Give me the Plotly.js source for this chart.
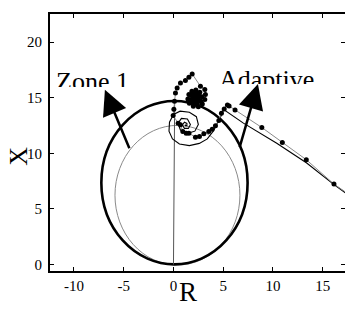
<!DOCTYPE html>
<html>
<head>
<meta charset="utf-8">
<script src="https://cdn.plot.ly/plotly-3.0.1.min.js"></script>
<style>
  html, body { margin: 0; padding: 0; background: #fff; }
  #chart { width: 345px; height: 321px; }
</style>
</head>
<body>
<div id="chart"></div>
<script>
// Relay characteristics (mho circles through the origin), in ohms
const zone1Center = [0.4, 6.24];
const zone1Radius = 6.28;
const adaptiveCenter = [0.1, 7.37];
const adaptiveRadius = 7.35;

// Apparent impedance seen by the relay (grey line, sampled points)
const sampledR = [18.6, 16.13, 13.35, 10.94, 8.88, 6.19, 5.59, 5.42, 5.1,
  4.82, 4.56, 4.22, 3.89, 3.55, 3.05, 2.61, 2.21, 1.55, 1.28, 0.94, 0.7, 0.47,
  -0.03, 0.04, 0.1, 0.2, 0.37, 0.7, 1.2, 1.55, 1.88,
  2.71, 3.15, 3.21, 3.15,
  2.9, 2.5, 2.0, 1.6, 1.45, 1.55, 1.85, 2.25, 2.65, 2.85, 2.75, 2.4, 2.0, 1.75,
  1.75, 2.0, 2.35, 2.6, 2.5, 2.2, 1.95, 2.0, 2.3, 2.4, 2.2, 2.15];
const sampledX = [5.7, 7.24, 9.43, 10.98, 12.33, 13.91, 14.27, 14.36, 14.0,
  13.62, 12.95, 12.48, 12.18, 11.97, 11.76, 11.52, 11.46, 11.82, 11.82, 11.97, 12.57, 12.72,
  13.4, 13.98, 14.7, 15.44, 15.89, 16.34, 16.55, 16.85, 17.15,
  16.04, 15.74, 15.29, 14.84,
  14.45, 14.2, 14.25, 14.5, 14.9, 15.3, 15.6, 15.7, 15.5, 15.1, 14.7, 14.45, 14.5, 14.8,
  15.2, 15.45, 15.45, 15.15, 14.8, 14.7, 14.9, 15.2, 15.25, 15.0, 14.95, 15.1];

// Continuous impedance trajectory (black line)
const trajR = [18.6, 16.2, 13.39, 10.38, 7.03, 5.05, 4.84, 4.5, 4.0, 3.4, 2.6, 1.6, 0.6,
  -0.1, -0.45, -0.4, 0.0, 0.67, 1.6, 2.3, 2.5, 2.15, 1.4, 0.7, 0.45, 0.8, 1.4, 1.7,
  1.5, 1.1, 0.9, 1.1, 1.35, 1.35, 1.2, 1.2];
const trajX = [5.6, 7.15, 9.13, 10.92, 12.72, 13.95, 13.47, 12.87, 12.0, 11.3, 10.9, 10.7, 10.85,
  11.3, 12.0, 12.8, 13.5, 13.8, 13.7, 13.3, 12.6, 12.0, 11.8, 12.1, 12.7, 13.15, 13.1, 12.6,
  12.25, 12.25, 12.55, 12.8, 12.7, 12.5, 12.5, 12.6];

// Jump from the origin
const jumpR = [0, 0.12];
const jumpX = [0, 14.7];

// Axis ticks
const rTicks = [-10, -5, 0, 5, 10, 15];
const xTicks = [0, 5, 10, 15, 20];

// Label arrows: tip and tail
const zone1ArrowTip = [-6.89, 15.72], zone1ArrowTail = [-4.37, 10.33];
const adaptArrowTip = [8.49, 16.25], adaptArrowTail = [6.61, 10.42];

const serif = '"Liberation Serif", "Times New Roman", serif';

const traces = [
  { x: jumpR, y: jumpX, mode: 'lines', line: { color: '#555', width: 1 }, hoverinfo: 'skip' },
  { x: trajR, y: trajX, mode: 'lines', line: { color: '#000', width: 1.1 }, hoverinfo: 'skip' },
  { x: sampledR, y: sampledX, mode: 'lines+markers',
    line: { color: '#8a8a8a', width: 1 },
    marker: { color: '#000', size: 5 }, cliponaxis: true, hoverinfo: 'skip' }
];

function circleShape(c, r, color, width) {
  return { type: 'circle', xref: 'x', yref: 'y', layer: 'below',
    x0: c[0] - r, x1: c[0] + r, y0: c[1] - r, y1: c[1] + r,
    line: { color: color, width: width } };
}

function arrow(tip, tail) {
  return { x: tip[0], y: tip[1], ax: tail[0], ay: tail[1], axref: 'x', ayref: 'y',
    xref: 'x', yref: 'y', text: '', showarrow: true, arrowhead: 2,
    arrowsize: 2, arrowwidth: 2.5, arrowcolor: '#000', standoff: 0 };
}

const axisCommon = {
  ticks: 'inside', ticklen: 4, tickwidth: 1, tickcolor: '#000',
  showline: true, linecolor: '#000', linewidth: 2, mirror: 'ticks',
  showgrid: false, zeroline: false,
  tickfont: { family: serif, size: 15, color: '#000' }
};

const layout = {
  width: 345, height: 321,
  margin: { l: 50, r: 0, t: 14, b: 49.5, pad: 0 },
  paper_bgcolor: '#fff', plot_bgcolor: '#fff',
  showlegend: false,
  xaxis: Object.assign({}, axisCommon, { range: [-12.41, 17.24], tickvals: rTicks, ticktext: rTicks.map(String) }),
  yaxis: Object.assign({}, axisCommon, { range: [-0.58, 22.54], tickvals: xTicks, ticktext: xTicks.map(String), ticklabelstandoff: 3 }),
  shapes: [
    circleShape(zone1Center, zone1Radius, '#8a8a8a', 1),
    circleShape(adaptiveCenter, adaptiveRadius, '#000', 2.6)
  ],
  annotations: [
    { text: 'Zone 1', xref: 'paper', yref: 'paper', x: 0.017, y: 0.7961,
      xanchor: 'left', yanchor: 'top', align: 'left', valign: 'top',
      width: 76, height: 20, borderpad: 0, showarrow: false,
      font: { family: serif, size: 26, color: '#000' } },
    { text: 'Adaptive', xref: 'paper', yref: 'paper', x: 0.5695, y: 0.8058,
      xanchor: 'left', yanchor: 'top', align: 'left', valign: 'top',
      width: 98, height: 19, borderpad: 0, showarrow: false,
      font: { family: serif, size: 26, color: '#000' } },
    arrow(zone1ArrowTip, zone1ArrowTail),
    arrow(adaptArrowTip, adaptArrowTail),
    { text: 'R', xref: 'paper', yref: 'paper', x: 0.467, y: -0.0816,
      xanchor: 'center', yanchor: 'middle', showarrow: false,
      font: { family: serif, size: 27, color: '#000' } },
    { text: 'X', xref: 'paper', yref: 'paper', x: -0.1075, y: 0.4458, textangle: -90,
      xanchor: 'center', yanchor: 'middle', showarrow: false,
      font: { family: serif, size: 26, color: '#000' } }
  ]
};

Plotly.newPlot('chart', traces, layout, { staticPlot: true, displayModeBar: false });
</script>
</body>
</html>
